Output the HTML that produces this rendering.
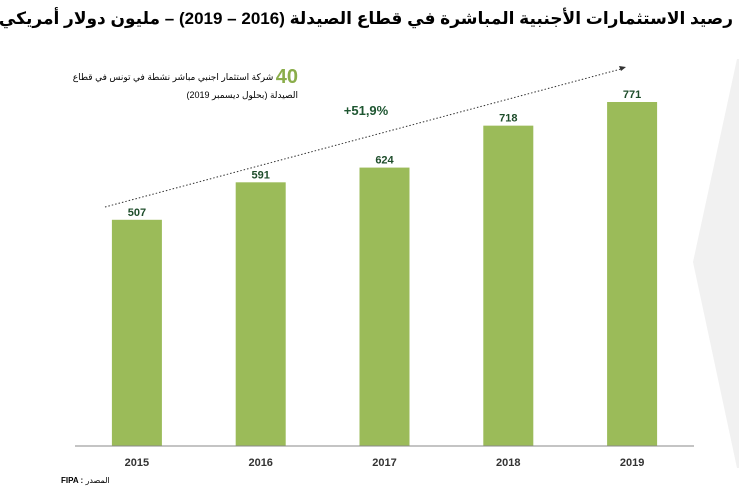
<!DOCTYPE html>
<html><head><meta charset="utf-8">
<style>
body{margin:0;background:#fff;width:745px;height:497px;overflow:hidden;font-family:"Liberation Sans","DejaVu Sans",sans-serif;position:relative;}
svg{position:absolute;left:0;top:0;}
.t{position:absolute;white-space:nowrap;}
</style></head>
<body>
<svg width="745" height="497">
<polygon points="737,59 739,59 739,468 737,468 693,262" fill="#f1f1f1"/>
<g id="bars"></g>
<line x1="75" y1="446" x2="694" y2="446" stroke="#888" stroke-width="1"/>
<line x1="105" y1="207" x2="621" y2="69" stroke="#333" stroke-width="1" stroke-dasharray="1.5,2"/>
<polygon points="626,67 619,66 621,71" fill="#333"/>
<text x="366" y="115" text-anchor="middle" font-size="13" font-weight="bold" fill="#1e5631">+51,9%</text>
</svg>
<div class="t" style="right:12px;top:9px;direction:rtl;font-size:17px;font-weight:bold;color:#000;">رصيد الاستثمارات الأجنبية المباشرة في قطاع الصيدلة (2016 – 2019) – مليون دولار أمريكي</div>
<div class="t" style="right:447px;top:68px;direction:rtl;text-align:right;font-size:9px;line-height:18px;color:#000;">
<span style="font-size:20px;font-weight:bold;color:#8aad4a;vertical-align:-3px;">40</span> شركة استثمار اجنبي مباشر نشطة في تونس في قطاع<br>الصيدلة (بحلول ديسمبر 2019)</div>
<div class="t" style="left:61px;top:476px;direction:ltr;font-size:8px;font-weight:bold;color:#000;">FIPA : <span style="font-weight:normal">المصدر</span></div>
<script>
const categories=["2015","2016","2017","2018","2019"];
const values=[507,591,624,718,771];
const x0=75,x1=694,yBase=446,yScale=344/771,barW=50;
const band=(x1-x0)/categories.length;
function xCenter(i){return x0+band*(i+0.5);}
function yOf(v){return yBase-v*yScale;}
const g=document.getElementById('bars');
const ns="http://www.w3.org/2000/svg";
categories.forEach((c,i)=>{
  const r=document.createElementNS(ns,'rect');
  
  
  r.setAttribute('x',xCenter(i)-barW/2);r.setAttribute('y',yOf(values[i]));
  r.setAttribute('width',barW);r.setAttribute('height',yBase-yOf(values[i]));
  r.setAttribute('fill','#9bbb59');g.appendChild(r);
  const t=document.createElementNS(ns,'text');
  
  
  t.setAttribute('x',xCenter(i));t.setAttribute('y',yOf(values[i])-4);
  t.setAttribute('text-anchor','middle');t.setAttribute('font-size','11');t.setAttribute('font-weight','bold');t.setAttribute('fill','#1e4d2b');
  t.textContent=values[i];g.appendChild(t);
  const l=document.createElementNS(ns,'text');
  
  
  l.setAttribute('x',xCenter(i));l.setAttribute('y',466);
  l.setAttribute('text-anchor','middle');l.setAttribute('font-size','11');l.setAttribute('font-weight','bold');l.setAttribute('fill','#333');
  l.textContent=c;g.appendChild(l);
});
</script>
</body></html>
